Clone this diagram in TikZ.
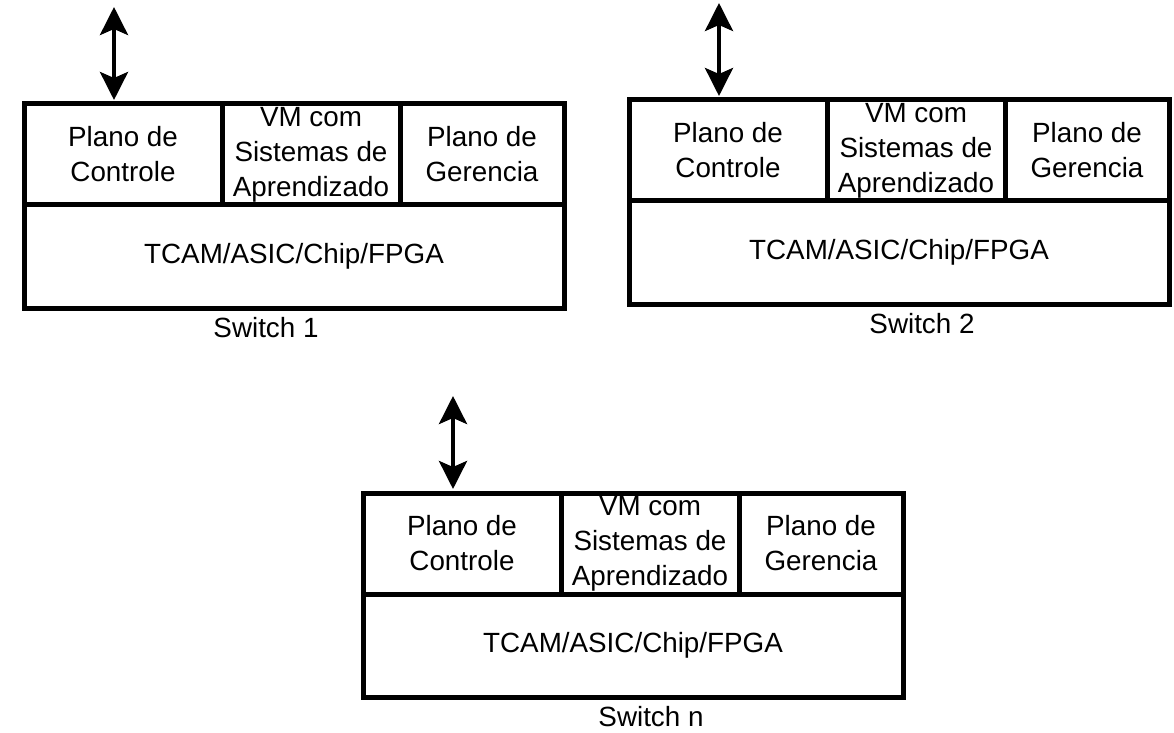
\documentclass[tikz,border=0pt]{standalone}
\usepackage{fontspec}
\setmainfont{Liberation Sans}
\usetikzlibrary{arrows.meta,calc}

\tikzset{
  cell/.style={draw, line width=2.5pt, inner sep=0pt, outer sep=0pt,
    align=center, anchor=north west,
    font=\fontsize{13.9}{17.5}\selectfont},
  caption/.style={inner sep=0pt, font=\fontsize{13.9}{17.5}\selectfont},
  link/.style={line width=2pt,
    {Stealth[length=14pt,width=14pt,inset=3pt]}-{Stealth[length=14pt,width=14pt,inset=3pt]}}
}

% One switch: #1 name, #2/#3 top-left corner (px), #4 caption, #5 caption x offset (px)
\newcommand\switchunit[5]{%
  \node[cell, minimum width=99pt, minimum height=50.5pt] (#1ctl) at (#2,#3) {Plano de\\Controle};
  \node[cell, minimum width=89pt, minimum height=50.5pt] (#1vm) at (#1ctl.north east) {VM com\\Sistemas de\\Aprendizado};
  \node[cell, minimum width=82pt, minimum height=50.5pt] (#1ger) at (#1vm.north east) {Plano de\\Gerencia};
  \node[cell, minimum width=270pt, minimum height=51.5pt] (#1chip) at (#1ctl.south west) {TCAM/ASIC/Chip/FPGA};
  \node[caption] (#1cap) at ($(#1chip.south west)+(#5,20)$) {#4};
  \coordinate (#1dock) at ($(#1ctl.north west)+(90,-4)$);
  \coordinate (#1ext) at ($(#1ctl.north west)+(90,-97)$);
  \draw[link] (#1ext) -- (#1dock);
}

\begin{document}
\begin{tikzpicture}[x=0.5pt, y=-0.5pt]
  \useasboundingbox (0,0) rectangle (1174,733);
  \switchunit{sa}{24}{104}{Switch 1}{242}
  \switchunit{sb}{629}{100}{Switch 2}{293}
  \switchunit{sn}{363}{493}{Switch n}{288}
\end{tikzpicture}
\end{document}
